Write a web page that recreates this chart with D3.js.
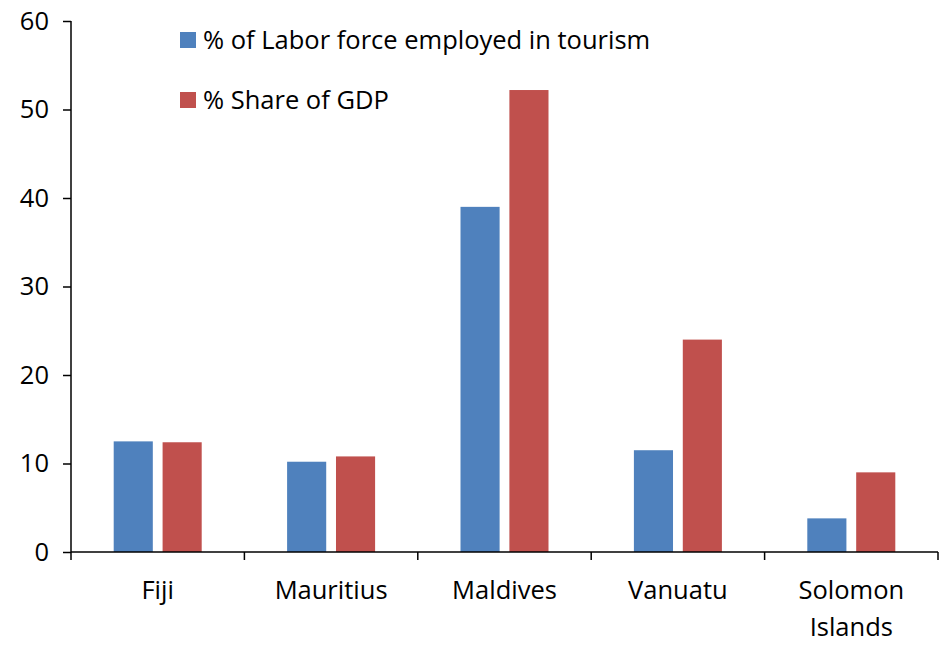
<!DOCTYPE html>
<html>
<head>
<meta charset="utf-8">
<script src="https://cdn.jsdelivr.net/npm/d3@7"></script>
<style>
  body { margin: 0; background: #fff; }
  text { font-family: "Open Sans", "Liberation Sans", sans-serif; fill: #000; }
</style>
</head>
<body>
<script>
var categories = ["Fiji", "Mauritius", "Maldives", "Vanuatu", "Solomon Islands"];
var seriesNames = ["% of Labor force employed in tourism", "% Share of GDP"];
var laborForce = [12.5, 10.2, 39.0, 11.5, 3.8];
var shareGDP = [12.4, 10.8, 52.2, 24.0, 9.0];
var yTicks = [0, 10, 20, 30, 40, 50, 60];
var colors = ["#4F81BD", "#C0504D"];

var width = 948, height = 649;
var margin = {top: 21, right: 10, bottom: 97, left: 71};
var plotW = width - margin.left - margin.right;
var plotH = height - margin.top - margin.bottom;
var fs = "25.5px";

var svg = d3.select("body").append("svg")
  .attr("width", width)
  .attr("height", height);

var g = svg.append("g")
  .attr("transform", "translate(" + margin.left + "," + margin.top + ")");

var x = d3.scaleBand().domain(categories).range([0, plotW]).paddingInner(0).paddingOuter(0);
var inner = d3.scaleBand().domain([0, 1]).range([x.bandwidth() / 2 - 44, x.bandwidth() / 2 + 44]).paddingInner(0.2);
var y = d3.scaleLinear().domain([0, 60]).range([plotH, 0]);

var rows = categories.map(function(c, i) { return {cat: c, vals: [laborForce[i], shareGDP[i]]}; });

var groups = g.selectAll(".grp").data(rows).enter().append("g")
  .attr("class", "grp")
  .attr("transform", function(d) { return "translate(" + x(d.cat) + ",0)"; });

groups.selectAll("rect").data(function(d) { return d.vals; }).enter().append("rect")
  .attr("x", function(d, i) { return inner(i); })
  .attr("width", inner.bandwidth())
  .attr("y", function(d) { return y(d); })
  .attr("height", function(d) { return plotH - y(d); })
  .attr("fill", function(d, i) { return colors[i]; });

// y axis
var yAxis = g.append("g")
  .call(d3.axisLeft(y).tickValues(yTicks).tickSize(8).tickPadding(14));
yAxis.selectAll("path, line").attr("stroke", "#000").attr("stroke-width", 1.5);
yAxis.select(".domain").attr("d", "M0,0V" + plotH);
yAxis.selectAll("text").style("font-size", fs).attr("font-family", null);

// x axis
var xAxis = g.append("g")
  .attr("transform", "translate(0," + plotH + ")")
  .call(d3.axisBottom(x).tickSize(0).tickFormat(""));
xAxis.select(".domain").attr("stroke", "#000").attr("stroke-width", 1.5).attr("d", "M0,0H" + plotW);
xAxis.selectAll(".tick").remove();

var boundaries = d3.range(categories.length + 1);
xAxis.selectAll(".bt").data(boundaries).enter().append("line")
  .attr("x1", function(d) { return d * x.step(); })
  .attr("x2", function(d) { return d * x.step(); })
  .attr("y1", 0).attr("y2", 8)
  .attr("stroke", "#000").attr("stroke-width", 1.5);

xAxis.selectAll(".cl").data(categories).enter().append("text")
  .attr("class", "cl")
  .attr("x", function(d) { return x(d) + x.bandwidth() / 2; })
  .attr("y", 47)
  .attr("text-anchor", "middle")
  .style("font-size", fs)
  .each(function(d) {
    var words = d.split(" ");
    var t = d3.select(this);
    words.forEach(function(w, i) {
      t.append("tspan").attr("x", x(d) + x.bandwidth() / 2).attr("dy", i === 0 ? 0 : 37).text(w);
    });
  });

// legend
var legend = svg.append("g").attr("transform", "translate(180,32)");
var li = legend.selectAll(".li").data(seriesNames).enter().append("g")
  .attr("transform", function(d, i) { return "translate(0," + (i * 60) + ")"; });
li.append("rect").attr("width", 16).attr("height", 16).attr("fill", function(d, i) { return colors[i]; });
li.append("text").attr("x", 23).attr("y", 17).style("font-size", fs).text(function(d) { return d; });
</script>
</body>
</html>
